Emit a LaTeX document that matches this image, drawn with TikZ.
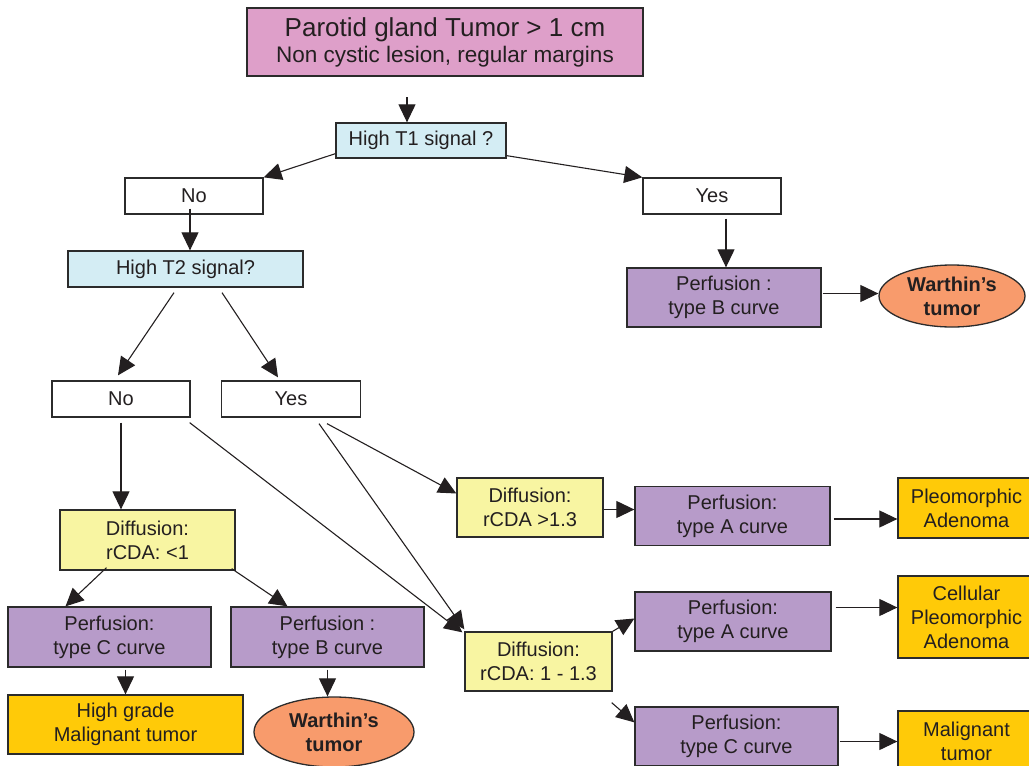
\documentclass[tikz,border=0pt]{standalone}
\usepackage{fontspec}
\setmainfont{Liberation Sans}
\usetikzlibrary{arrows.meta,shapes.geometric,calc}

\definecolor{rosa}{HTML}{DE9FC9}
\definecolor{celeste}{HTML}{D4EDF4}
\definecolor{viola}{HTML}{B79BC9}
\definecolor{giallo}{HTML}{F8F5A2}
\definecolor{oro}{HTML}{FFCA08}
\definecolor{arancio}{HTML}{F89B6C}
\definecolor{bordo}{HTML}{2B2B2B}
\definecolor{testo}{HTML}{231F20}

\begin{document}
\begin{tikzpicture}[x=1pt, y=-1pt, >={Triangle[length=18pt,width=17pt]}, line width=1.1pt, draw=testo,
  box/.style={draw=bordo, line width=1.3pt, inner sep=0pt, align=center, text=testo,
    font=\fontsize{20}{24}\selectfont},
  scelta/.style={box, fill=white, minimum width=138pt, minimum height=36pt},
  domanda/.style={box, fill=celeste, minimum height=35pt},
  perfusione/.style={box, fill=viola, minimum height=59pt},
  diffusione/.style={box, fill=giallo, minimum height=59pt},
  diagnosi/.style={box, fill=oro},
  warthin/.style={box, ellipse, fill=arancio, font=\fontsize{20}{24}\selectfont\bfseries}]

\useasboundingbox (0,0) rectangle (1029,766);

% Titolo
\node[box, fill=rosa, minimum width=396pt, minimum height=68pt, font=\fontsize{22.5}{26}\selectfont] (tumore) at (445,42)
  {{\fontsize{26}{26}\selectfont Parotid gland Tumor > 1 cm}\\Non cystic lesion, regular margins};

% Domande T1 e T2
\node[domanda, minimum width=170pt] (t1) at (421,140.5) {High T1 signal ?};
\node[scelta] (no1) at (194,196) {No};
\node[scelta] (yes1) at (712,196) {Yes};
\node[domanda, minimum width=235pt, minimum height=36pt] (t2) at (185.5,269) {High T2 signal?};
\node[scelta] (no2) at (121,399) {No};
\node[scelta, minimum width=139pt] (yes2) at (291,399) {Yes};

% Ramo T1 alto
\node[perfusione, minimum width=194pt] (perfB1) at (724,297.5) {Perfusion :\\type B curve};
\node[warthin, minimum width=146pt, minimum height=62pt] (warth1) at (952,296) {Warthin’s\\tumor};

% Diffusione
\node[diffusione, minimum width=175pt, minimum height=60pt] (diff1) at (147.5,540) {Diffusion:\\rCDA: <1};
\node[diffusione, minimum width=146pt] (diff2) at (530,507.5) {Diffusion:\\rCDA >1.3};
\node[diffusione, minimum width=147pt] (diff3) at (538.5,661.5) {Diffusion:\\rCDA: 1 - 1.3};

% Perfusione
\node[perfusione, minimum width=203pt, minimum height=60pt] (perfC1) at (109.5,637) {Perfusion:\\type C curve};
\node[perfusione, minimum width=193pt, minimum height=60pt] (perfB2) at (327.5,637) {Perfusion :\\type B curve};
\node[perfusione, minimum width=195pt] (perfA1) at (732.5,516) {Perfusion:\\type A curve};
\node[perfusione, minimum width=196pt] (perfA2) at (733,621.5) {Perfusion:\\type A curve};
\node[perfusione, minimum width=203pt] (perfC2) at (736.5,736.5) {Perfusion:\\type C curve};

% Diagnosi finali
\node[diagnosi, minimum width=235pt, minimum height=59pt] (alto) at (125.5,724.5) {High grade\\Malignant tumor};
\node[warthin, minimum width=160pt, minimum height=70pt] (warth2) at (334,732) {Warthin’s\\tumor};
\node[diagnosi, minimum width=137pt, minimum height=60pt] (pleo) at (966.5,508) {Pleomorphic\\Adenoma};
\node[diagnosi, minimum width=137pt, minimum height=82pt] (cell) at (966.5,617) {Cellular\\Pleomorphic\\Adenoma};
\node[diagnosi, minimum width=137pt, minimum height=60pt] (malig) at (966.5,741) {Malignant\\tumor};

% Frecce
\coordinate (s0) at (407,97);
\draw[->] (s0) -- (s0 |- t1.north);
\draw[->] ($(t1.south west)+(0,-5)$) -- (no1.north east);
\draw[->] ($(t1.south east)+(0,-3)$) -- (yes1.north west);
\draw[->] ($(no1.south)+(-4,-6)$) coordinate (a1) -- (a1 |- t2.north);
\draw[->] ($(t2.south)+(-11.5,5)$) -- ($(no2.north)+(-3,-5)$);
\draw[->] ($(t2.south)+(36.5,5)$) -- ($(yes2.north)+(-13,-3)$);
\draw[->] ($(no2.south)+(0,5)$) -- (no2.south |- diff1.north);
\draw[->] ($(no2.south east)+(-1,5)$) -- ($(diff3.north west)+(-2,1)$);
\draw[->] ($(yes2.south)+(36,6)$) -- ($(diff2.west)+(0,-14)$);
\draw[->] ($(yes2.south)+(28,6)$) -- ($(diff3.north west)+(0,-2)$);
\draw[->] ($(yes1.south)+(14,4)$) coordinate (a2) -- (a2 |- perfB1.north);
\draw[->] ($(perfB1.east)+(1,-4)$) coordinate (a3) -- (a3 -| warth1.west);
\draw[->] ($(diff1.south)+(-41,-3)$) -- ($(perfC1.north)+(-44,0)$);
\draw[->] ($(diff1.south east)+(-4,-2)$) -- ($(perfB2.north)+(-40,0)$);
\draw[->] ($(alto.north |- perfC1.south)+(0,2)$) -- (alto.north);
\draw[->] ($(perfB2.south)+(0,2)$) -- (perfB2.south |- warth2.north);
\draw[->] ($(diff2.east)+(0,2)$) coordinate (a4) -- (a4 -| perfA1.west);
\draw[->] ($(perfA1.east)+(3,3)$) coordinate (a5) -- (a5 -| pleo.west);
\draw[->] (diff3.north east) -- ($(perfA2.west)+(0,-3)$);
\draw[->] ($(diff3.south east)+(-1,11)$) -- ($(perfC2.north west)+(0,16)$);
\draw[->] ($(perfA2.east)+(4,-14)$) coordinate (a6) -- (a6 -| cell.west);
\draw[->] ($(perfC2.east)+(1,5)$) coordinate (a7) -- (a7 -| malig.west);

\end{tikzpicture}
\end{document}
